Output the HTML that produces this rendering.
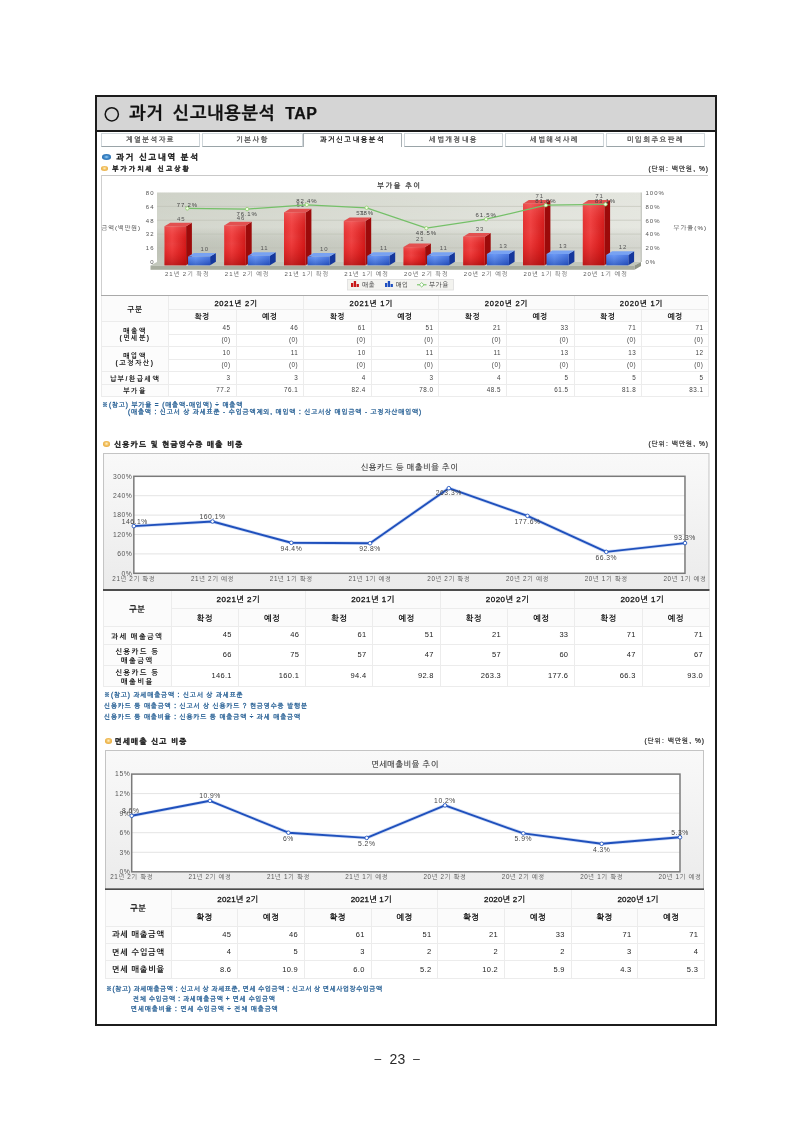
<!DOCTYPE html>
<html lang="ko">
<head>
<meta charset="utf-8">
<title>과거 신고내용분석 TAP</title>
<style>
*{margin:0;padding:0;box-sizing:border-box;}
html,body{width:793px;height:1121px;background:#fff;overflow:hidden;}
body{position:relative;font-family:"Liberation Sans","NanumGothic",sans-serif;color:#222;}
.a{position:absolute;white-space:nowrap;}
svg text{font-family:"Liberation Sans","NanumGothic",sans-serif;}
#frame{position:absolute;left:95px;top:95px;width:622px;height:931px;border:2px solid #1c1c1c;}
#hdr{position:absolute;left:97px;top:97px;width:618px;height:35px;background:#d5d5d5;border-bottom:2px solid #1a1a1a;}
#title{left:129px;top:103px;font-size:17.5px;font-weight:bold;color:#111;letter-spacing:0.7px;word-spacing:4px;-webkit-text-stroke:0.25px #111;}
#title .en{font-size:16px;letter-spacing:0.4px;}
#circ{position:absolute;left:104px;top:107px;width:15px;height:15px;border:1.6px solid #111;border-radius:50%;}
.tab{position:absolute;top:133px;height:14px;width:99px;border:1px solid #cfd6da;border-bottom:1px solid #9aa4a8;background:#fff;font-size:7px;color:#444;text-align:center;line-height:12px;letter-spacing:1.6px;-webkit-text-stroke:0.3px #555;}
.tab.on{border-bottom:none;color:#111;border-color:#a9b0b4;-webkit-text-stroke:0.3px #111;}
.h1{font-size:8px;font-weight:bold;color:#1a1a1a;letter-spacing:1px;-webkit-text-stroke:0.35px #1a1a1a;}
.dotb{position:absolute;width:8px;height:4.5px;border-radius:50%;background:radial-gradient(ellipse at 50% 50%,#9fd4fa 0,#3c86c8 40%,#1f5f9e 100%);}
.doto{position:absolute;width:7.5px;height:4.5px;border-radius:50%;background:radial-gradient(ellipse at 50% 45%,#fff2c8 0,#f2c060 40%,#e0a030 100%);}
.unit{font-size:6.6px;color:#222;letter-spacing:1px;-webkit-text-stroke:0.2px #222;}
.note{font-size:6.4px;color:#275a8c;letter-spacing:0.9px;font-weight:bold;}
#pnum{left:374.8px;top:1051px;font-size:14px;color:#2a2a2a;line-height:16px;}
#pnum .d{font-size:11.3px;display:inline-block;vertical-align:top;line-height:15.5px;-webkit-text-stroke:0.25px #2a2a2a;}
#pnum .n{display:inline-block;margin:0 8px 0 8.5px;}
table.tb{position:absolute;border-collapse:collapse;table-layout:fixed;}
.tb th,.tb td{padding:0;border:1px solid #ececec;white-space:nowrap;overflow:hidden;line-height:1;}
.tb th{font-weight:normal;color:#111;background:#fbfbfb;}
.tb td{text-align:right;padding-right:6px;color:#333;background:#fff;}
.tb tr:first-child th{border-top:none;}
.tb th.l{background:#fcfcfc;}
.tb th.g{font-weight:bold;}
.t1 th{font-size:7.5px;font-weight:bold;letter-spacing:0.8px;}
.t1 td{font-size:6.3px;letter-spacing:0.5px;color:#444;}
.t1 th.l{font-size:6.8px;letter-spacing:1.5px;line-height:7px;}
.t2 th,.t3 th{font-size:8px;letter-spacing:0.5px;}
.t2 th.l,.t3 th.l{font-weight:bold;letter-spacing:0.8px;}
.t2 th.s{font-weight:bold;}
.t2 td,.t3 td{font-size:7.5px;letter-spacing:0.3px;}
.t2 th.l{line-height:8.5px;}
.t1 th.y,.t1 th.s,.t1 th.g{padding-top:2px;}
.t2 th.y{padding-top:1px;font-weight:bold;letter-spacing:0.2px;}
.t2 th.s,.t2 th.g{padding-top:3px;}
.t2 th.g,.t3 th.g{font-weight:normal;-webkit-text-stroke:0.35px #111;}
.t3 th.y,.t3 th.s,.t3 th.g{padding-top:2px;}
.t3 th.y{letter-spacing:0.2px;}
.t2 th.l{padding-top:2px;}
.t3 th.l{padding-top:1px;}
.t1 td{padding-right:5px;}
.t1 th.y{font-weight:normal;-webkit-text-stroke:0.3px #111;}
.t3 th.y,.t3 th.s{-webkit-text-stroke:0.3px #111;}
.t2 td,.t3 td{color:#222;}
.t2 th.y{font-weight:normal;-webkit-text-stroke:0.3px #111;letter-spacing:0.5px;}
.t2 th.l{font-size:7.2px;letter-spacing:1.4px;line-height:9px;}
.note{font-weight:normal;-webkit-text-stroke:0.3px #2a6296;color:#2a6296;}

</style>
</head>
<body>

<div id="frame"></div>
<div id="hdr"></div>
<svg class="a" style="left:103px;top:106px" width="17" height="17" viewBox="0 0 17 17"><circle cx="8.8" cy="8.3" r="6.6" fill="none" stroke="#151515" stroke-width="1.5"/></svg>
<div class="a" id="title">과거 신고내용분석 <span class="en">TAP</span></div>

<div class="tab" style="left:101px">계열분석자료</div>
<div class="tab" style="left:202px;width:101px">기본사항</div>
<div class="tab on" style="left:303px">과거신고내용분석</div>
<div class="tab" style="left:404px">세법개정내용</div>
<div class="tab" style="left:505px">세법해석사례</div>
<div class="tab" style="left:606px">미입회주요판례</div>

<div class="dotb" style="left:101.8px;top:154.4px;width:9.3px;height:5.5px"></div>
<div class="a h1" style="left:116px;top:153px;letter-spacing:1.9px">과거 신고내역 분석</div>
<div class="doto" style="left:101px;top:166.1px;width:7.3px;height:4.6px"></div>
<div class="a h1" style="left:112.3px;top:165px;font-size:6.6px;letter-spacing:2.1px">부가가치세 신고상황</div>
<div class="a unit" style="right:84px;top:164px">(단위: 백만원, %)</div>

<svg class="a" style="left:100px;top:174px" width="610" height="123" viewBox="100 174 610 123">
<defs>
<linearGradient id="wall" x1="0" y1="0" x2="1" y2="0"><stop offset="0" stop-color="#c8ccc0"/><stop offset="0.5" stop-color="#d4d7cd"/><stop offset="1" stop-color="#e0e2da"/></linearGradient>
<linearGradient id="wallv" x1="0" y1="0" x2="0" y2="1"><stop offset="0" stop-color="#ffffff" stop-opacity="0.12"/><stop offset="0.5" stop-color="#ffffff" stop-opacity="0.2"/><stop offset="1" stop-color="#000000" stop-opacity="0.02"/></linearGradient>
<linearGradient id="rf" x1="0" y1="0" x2="1" y2="0"><stop offset="0" stop-color="#e03232"/><stop offset="0.35" stop-color="#ee4444"/><stop offset="1" stop-color="#d01a1a"/></linearGradient>
<linearGradient id="rfv" x1="0" y1="0" x2="0" y2="1"><stop offset="0" stop-color="#ff9090" stop-opacity="0.3"/><stop offset="0.45" stop-color="#ff0000" stop-opacity="0"/><stop offset="1" stop-color="#900000" stop-opacity="0.5"/></linearGradient>
<linearGradient id="bfv" x1="0" y1="0" x2="0" y2="1"><stop offset="0" stop-color="#a0c0ff" stop-opacity="0.3"/><stop offset="1" stop-color="#102a80" stop-opacity="0.35"/></linearGradient>
<linearGradient id="bf" x1="0" y1="0" x2="1" y2="0"><stop offset="0" stop-color="#3d72e6"/><stop offset="0.35" stop-color="#5588f0"/><stop offset="1" stop-color="#2a5bd4"/></linearGradient>
</defs>
<line x1="101" y1="175.5" x2="708" y2="175.5" stroke="#c9c9c9" stroke-width="1"/>
<line x1="101.5" y1="175" x2="101.5" y2="296" stroke="#cfcfcf" stroke-width="1"/>
<line x1="101" y1="295.5" x2="708" y2="295.5" stroke="#a9a9a9" stroke-width="1"/>
<text x="399.5" y="187.6" font-size="7" fill="#333" text-anchor="middle" letter-spacing="1.6" stroke="#333" stroke-width="0.25">부가율 추이</text>
<rect x="157" y="192.5" width="484" height="69.5" fill="url(#wall)"/>
<rect x="157" y="192.5" width="484" height="69.5" fill="url(#wallv)"/>
<line x1="641.3" y1="192.5" x2="641.3" y2="262" stroke="#a8aca2" stroke-width="0.8"/>
<line x1="157" y1="247.9" x2="641" y2="247.9" stroke="#bcc0b4" stroke-width="0.6"/>
<line x1="157" y1="234.1" x2="641" y2="234.1" stroke="#bcc0b4" stroke-width="0.6"/>
<line x1="157" y1="220.2" x2="641" y2="220.2" stroke="#bcc0b4" stroke-width="0.6"/>
<line x1="157" y1="206.4" x2="641" y2="206.4" stroke="#bcc0b4" stroke-width="0.6"/>
<polygon points="150.5,265.5 157,262 641,262 634.5,265.5" fill="#c2c7bb"/>
<rect x="150.5" y="265.5" width="484.0" height="4.300000000000011" fill="#a8ad9f"/>
<polygon points="634.5,265.5 641,262 641,266 634.5,269.8" fill="#8f9486"/>
<text x="154.5" y="264.0" font-size="6" fill="#555" text-anchor="end" letter-spacing="1">0</text>
<text x="154.5" y="250.2" font-size="6" fill="#555" text-anchor="end" letter-spacing="1">16</text>
<text x="154.5" y="236.4" font-size="6" fill="#555" text-anchor="end" letter-spacing="1">32</text>
<text x="154.5" y="222.5" font-size="6" fill="#555" text-anchor="end" letter-spacing="1">48</text>
<text x="154.5" y="208.7" font-size="6" fill="#555" text-anchor="end" letter-spacing="1">64</text>
<text x="154.5" y="194.9" font-size="6" fill="#555" text-anchor="end" letter-spacing="1">80</text>
<text x="645.5" y="264.0" font-size="6" fill="#555" letter-spacing="1">0%</text>
<text x="645.5" y="250.2" font-size="6" fill="#555" letter-spacing="1">20%</text>
<text x="645.5" y="236.4" font-size="6" fill="#555" letter-spacing="1">40%</text>
<text x="645.5" y="222.5" font-size="6" fill="#555" letter-spacing="1">60%</text>
<text x="645.5" y="208.7" font-size="6" fill="#555" letter-spacing="1">80%</text>
<text x="645.5" y="194.9" font-size="6" fill="#555" letter-spacing="1">100%</text>
<text x="101.5" y="229.5" font-size="6.2" fill="#444" letter-spacing="0.9">금액(백만원)</text>
<text x="673.5" y="230" font-size="6.2" fill="#444" letter-spacing="1.1">부가율(%)</text>
<polygon points="186.1,226.3 191.9,222.7 191.9,261.7 186.1,265.3" fill="#9c0a0a"/>
<polygon points="164.5,226.3 170.3,222.7 191.9,222.7 186.1,226.3" fill="#e25050"/>
<rect x="164.5" y="226.3" width="21.6" height="39.0" fill="url(#rf)"/>
<rect x="164.5" y="226.3" width="21.6" height="39.0" fill="url(#rfv)"/>
<text x="181.3" y="220.5" font-size="6" fill="#555" text-anchor="middle" letter-spacing="1">45</text>
<polygon points="210.1,256.6 215.9,253.0 215.9,261.7 210.1,265.3" fill="#15379c"/>
<polygon points="188.1,256.6 193.9,253.0 215.9,253.0 210.1,256.6" fill="#78a2f2"/>
<rect x="188.1" y="256.6" width="22.0" height="8.7" fill="url(#bf)"/>
<rect x="188.1" y="256.6" width="22" height="8.7" fill="url(#bfv)"/>
<text x="204.8" y="250.8" font-size="6" fill="#555" text-anchor="middle" letter-spacing="1">10</text>
<text x="187.3" y="275.8" font-size="6" fill="#5a5a5a" text-anchor="middle" letter-spacing="0.95">21년 2기 확정</text>
<polygon points="245.9,225.4 251.7,221.8 251.7,261.7 245.9,265.3" fill="#9c0a0a"/>
<polygon points="224.2,225.4 230.1,221.8 251.7,221.8 245.9,225.4" fill="#e25050"/>
<rect x="224.2" y="225.4" width="21.6" height="39.9" fill="url(#rf)"/>
<rect x="224.2" y="225.4" width="21.6" height="39.9" fill="url(#rfv)"/>
<text x="241.1" y="219.6" font-size="6" fill="#555" text-anchor="middle" letter-spacing="1">46</text>
<polygon points="269.9,255.8 275.7,252.2 275.7,261.7 269.9,265.3" fill="#15379c"/>
<polygon points="247.9,255.8 253.7,252.2 275.7,252.2 269.9,255.8" fill="#78a2f2"/>
<rect x="247.9" y="255.8" width="22.0" height="9.5" fill="url(#bf)"/>
<rect x="247.9" y="255.8" width="22" height="9.5" fill="url(#bfv)"/>
<text x="264.6" y="250.0" font-size="6" fill="#555" text-anchor="middle" letter-spacing="1">11</text>
<text x="247.1" y="275.8" font-size="6" fill="#5a5a5a" text-anchor="middle" letter-spacing="0.95">21년 2기 예정</text>
<polygon points="305.6,212.4 311.4,208.8 311.4,261.7 305.6,265.3" fill="#9c0a0a"/>
<polygon points="284.0,212.4 289.8,208.8 311.4,208.8 305.6,212.4" fill="#e25050"/>
<rect x="284.0" y="212.4" width="21.6" height="52.9" fill="url(#rf)"/>
<rect x="284.0" y="212.4" width="21.6" height="52.9" fill="url(#rfv)"/>
<text x="300.8" y="206.6" font-size="6" fill="#555" text-anchor="middle" letter-spacing="1">61</text>
<polygon points="329.6,256.6 335.4,253.0 335.4,261.7 329.6,265.3" fill="#15379c"/>
<polygon points="307.6,256.6 313.4,253.0 335.4,253.0 329.6,256.6" fill="#78a2f2"/>
<rect x="307.6" y="256.6" width="22.0" height="8.7" fill="url(#bf)"/>
<rect x="307.6" y="256.6" width="22" height="8.7" fill="url(#bfv)"/>
<text x="324.3" y="250.8" font-size="6" fill="#555" text-anchor="middle" letter-spacing="1">10</text>
<text x="306.8" y="275.8" font-size="6" fill="#5a5a5a" text-anchor="middle" letter-spacing="0.95">21년 1기 확정</text>
<polygon points="365.4,221.1 371.2,217.5 371.2,261.7 365.4,265.3" fill="#9c0a0a"/>
<polygon points="343.8,221.1 349.6,217.5 371.2,217.5 365.4,221.1" fill="#e25050"/>
<rect x="343.8" y="221.1" width="21.6" height="44.2" fill="url(#rf)"/>
<rect x="343.8" y="221.1" width="21.6" height="44.2" fill="url(#rfv)"/>
<text x="360.6" y="215.3" font-size="6" fill="#555" text-anchor="middle" letter-spacing="1">51</text>
<polygon points="389.4,255.8 395.2,252.2 395.2,261.7 389.4,265.3" fill="#15379c"/>
<polygon points="367.4,255.8 373.2,252.2 395.2,252.2 389.4,255.8" fill="#78a2f2"/>
<rect x="367.4" y="255.8" width="22.0" height="9.5" fill="url(#bf)"/>
<rect x="367.4" y="255.8" width="22" height="9.5" fill="url(#bfv)"/>
<text x="384.1" y="250.0" font-size="6" fill="#555" text-anchor="middle" letter-spacing="1">11</text>
<text x="366.6" y="275.8" font-size="6" fill="#5a5a5a" text-anchor="middle" letter-spacing="0.95">21년 1기 예정</text>
<polygon points="425.1,247.1 430.9,243.5 430.9,261.7 425.1,265.3" fill="#9c0a0a"/>
<polygon points="403.5,247.1 409.3,243.5 430.9,243.5 425.1,247.1" fill="#e25050"/>
<rect x="403.5" y="247.1" width="21.6" height="18.2" fill="url(#rf)"/>
<rect x="403.5" y="247.1" width="21.6" height="18.2" fill="url(#rfv)"/>
<text x="420.3" y="241.3" font-size="6" fill="#555" text-anchor="middle" letter-spacing="1">21</text>
<polygon points="449.1,255.8 454.9,252.2 454.9,261.7 449.1,265.3" fill="#15379c"/>
<polygon points="427.1,255.8 432.9,252.2 454.9,252.2 449.1,255.8" fill="#78a2f2"/>
<rect x="427.1" y="255.8" width="22.0" height="9.5" fill="url(#bf)"/>
<rect x="427.1" y="255.8" width="22" height="9.5" fill="url(#bfv)"/>
<text x="443.8" y="250.0" font-size="6" fill="#555" text-anchor="middle" letter-spacing="1">11</text>
<text x="426.3" y="275.8" font-size="6" fill="#5a5a5a" text-anchor="middle" letter-spacing="0.95">20년 2기 확정</text>
<polygon points="484.9,236.7 490.7,233.1 490.7,261.7 484.9,265.3" fill="#9c0a0a"/>
<polygon points="463.2,236.7 469.1,233.1 490.7,233.1 484.9,236.7" fill="#e25050"/>
<rect x="463.2" y="236.7" width="21.6" height="28.6" fill="url(#rf)"/>
<rect x="463.2" y="236.7" width="21.6" height="28.6" fill="url(#rfv)"/>
<text x="480.1" y="230.9" font-size="6" fill="#555" text-anchor="middle" letter-spacing="1">33</text>
<polygon points="508.9,254.0 514.6,250.4 514.6,261.7 508.9,265.3" fill="#15379c"/>
<polygon points="486.9,254.0 492.7,250.4 514.6,250.4 508.9,254.0" fill="#78a2f2"/>
<rect x="486.9" y="254.0" width="22.0" height="11.3" fill="url(#bf)"/>
<rect x="486.9" y="254.0" width="22" height="11.3" fill="url(#bfv)"/>
<text x="503.6" y="248.2" font-size="6" fill="#555" text-anchor="middle" letter-spacing="1">13</text>
<text x="486.1" y="275.8" font-size="6" fill="#5a5a5a" text-anchor="middle" letter-spacing="0.95">20년 2기 예정</text>
<polygon points="544.6,203.7 550.4,200.1 550.4,261.7 544.6,265.3" fill="#9c0a0a"/>
<polygon points="523.0,203.7 528.8,200.1 550.4,200.1 544.6,203.7" fill="#e25050"/>
<rect x="523.0" y="203.7" width="21.6" height="61.6" fill="url(#rf)"/>
<rect x="523.0" y="203.7" width="21.6" height="61.6" fill="url(#rfv)"/>
<text x="539.8" y="197.9" font-size="6" fill="#555" text-anchor="middle" letter-spacing="1">71</text>
<polygon points="568.6,254.0 574.4,250.4 574.4,261.7 568.6,265.3" fill="#15379c"/>
<polygon points="546.6,254.0 552.4,250.4 574.4,250.4 568.6,254.0" fill="#78a2f2"/>
<rect x="546.6" y="254.0" width="22.0" height="11.3" fill="url(#bf)"/>
<rect x="546.6" y="254.0" width="22" height="11.3" fill="url(#bfv)"/>
<text x="563.3" y="248.2" font-size="6" fill="#555" text-anchor="middle" letter-spacing="1">13</text>
<text x="545.8" y="275.8" font-size="6" fill="#5a5a5a" text-anchor="middle" letter-spacing="0.95">20년 1기 확정</text>
<polygon points="604.3,203.7 610.1,200.1 610.1,261.7 604.3,265.3" fill="#9c0a0a"/>
<polygon points="582.8,203.7 588.5,200.1 610.1,200.1 604.3,203.7" fill="#e25050"/>
<rect x="582.8" y="203.7" width="21.6" height="61.6" fill="url(#rf)"/>
<rect x="582.8" y="203.7" width="21.6" height="61.6" fill="url(#rfv)"/>
<text x="599.5" y="197.9" font-size="6" fill="#555" text-anchor="middle" letter-spacing="1">71</text>
<polygon points="628.3,254.9 634.1,251.3 634.1,261.7 628.3,265.3" fill="#15379c"/>
<polygon points="606.3,254.9 612.1,251.3 634.1,251.3 628.3,254.9" fill="#78a2f2"/>
<rect x="606.3" y="254.9" width="22.0" height="10.4" fill="url(#bf)"/>
<rect x="606.3" y="254.9" width="22" height="10.4" fill="url(#bfv)"/>
<text x="623.0" y="249.1" font-size="6" fill="#555" text-anchor="middle" letter-spacing="1">12</text>
<text x="605.5" y="275.8" font-size="6" fill="#5a5a5a" text-anchor="middle" letter-spacing="0.95">20년 1기 예정</text>
<polyline points="187.3,208.4 247.1,209.1 306.8,204.8 366.6,207.8 426.3,228.2 486.1,219.2 545.8,205.2 605.5,204.3" fill="none" stroke="#74c068" stroke-width="1.3"/>
<circle cx="187.3" cy="208.4" r="1.7" fill="#f4fbe8" stroke="#8ccf6a" stroke-width="0.8"/>
<text x="187.3" y="206.6" font-size="6" fill="#444" text-anchor="middle" letter-spacing="0.8">77.2%</text>
<circle cx="247.1" cy="209.1" r="1.7" fill="#f4fbe8" stroke="#8ccf6a" stroke-width="0.8"/>
<text x="247.1" y="216.3" font-size="6" fill="#444" text-anchor="middle" letter-spacing="0.8">76.1%</text>
<circle cx="306.8" cy="204.8" r="1.7" fill="#f4fbe8" stroke="#8ccf6a" stroke-width="0.8"/>
<text x="306.8" y="203.0" font-size="6" fill="#444" text-anchor="middle" letter-spacing="0.8">82.4%</text>
<circle cx="366.6" cy="207.8" r="1.7" fill="#f4fbe8" stroke="#8ccf6a" stroke-width="0.8"/>
<text x="366.6" y="215.0" font-size="6" fill="#444" text-anchor="middle" letter-spacing="0.8">78%</text>
<circle cx="426.3" cy="228.2" r="1.7" fill="#f4fbe8" stroke="#8ccf6a" stroke-width="0.8"/>
<text x="426.3" y="235.4" font-size="6" fill="#444" text-anchor="middle" letter-spacing="0.8">48.5%</text>
<circle cx="486.1" cy="219.2" r="1.7" fill="#f4fbe8" stroke="#8ccf6a" stroke-width="0.8"/>
<text x="486.1" y="217.4" font-size="6" fill="#444" text-anchor="middle" letter-spacing="0.8">61.5%</text>
<circle cx="545.8" cy="205.2" r="1.7" fill="#f4fbe8" stroke="#8ccf6a" stroke-width="0.8"/>
<text x="545.8" y="203.4" font-size="6" fill="#444" text-anchor="middle" letter-spacing="0.8">81.8%</text>
<circle cx="605.5" cy="204.3" r="1.7" fill="#f4fbe8" stroke="#8ccf6a" stroke-width="0.8"/>
<text x="605.5" y="202.5" font-size="6" fill="#444" text-anchor="middle" letter-spacing="0.8">83.1%</text>
<rect x="347.5" y="279.5" width="106" height="10.5" fill="#f3f3ef" stroke="#dedede" stroke-width="0.8"/>
<rect x="351.0" y="283" width="2.3" height="4" fill="#c81818"/>
<rect x="353.8" y="281" width="2.3" height="6" fill="#c81818"/>
<rect x="356.6" y="284" width="2.3" height="3" fill="#c81818"/>
<text x="362" y="287.2" font-size="6.5" fill="#333" letter-spacing="0.5">매출</text>
<rect x="385.0" y="283" width="2.3" height="4" fill="#2050c0"/>
<rect x="387.8" y="281" width="2.3" height="6" fill="#2050c0"/>
<rect x="390.6" y="284" width="2.3" height="3" fill="#2050c0"/>
<text x="395.5" y="287.2" font-size="6.5" fill="#333" letter-spacing="0.5">매입</text>
<line x1="417" y1="284.8" x2="426.5" y2="284.8" stroke="#6cbf5a" stroke-width="1"/>
<polygon points="421.7,282.6 424,284.8 421.7,287 419.4,284.8" fill="#fff" stroke="#6cbf5a" stroke-width="0.8"/>
<text x="429" y="287.2" font-size="6.5" fill="#333" letter-spacing="0.5">부가율</text>
</svg>
<table class="tb t1" style="left:101px;top:296px;width:607.4px;border-top:0">
<colgroup><col style="width:67px"><col style="width:67.6px"><col style="width:67.6px"><col style="width:67.6px"><col style="width:67.6px"><col style="width:67.6px"><col style="width:67.6px"><col style="width:67.6px"><col style="width:67.2px"></colgroup>
<tr style="height:13px"><th rowspan="2" class="g">구분</th><th colspan="2" class="y">2021년 2기</th><th colspan="2" class="y">2021년 1기</th><th colspan="2" class="y">2020년 2기</th><th colspan="2" class="y">2020년 1기</th></tr>
<tr style="height:12.8px"><th class="s">확정</th><th class="s">예정</th><th class="s">확정</th><th class="s">예정</th><th class="s">확정</th><th class="s">예정</th><th class="s">확정</th><th class="s">예정</th></tr>
<tr style="height:12.5px"><th rowspan="2" class="l">매출액<br>(면세분)</th><td>45</td><td>46</td><td>61</td><td>51</td><td>21</td><td>33</td><td>71</td><td>71</td></tr>
<tr style="height:12.5px"><td>(0)</td><td>(0)</td><td>(0)</td><td>(0)</td><td>(0)</td><td>(0)</td><td>(0)</td><td>(0)</td></tr>
<tr style="height:12.5px"><th rowspan="2" class="l">매입액<br>(고정자산)</th><td>10</td><td>11</td><td>10</td><td>11</td><td>11</td><td>13</td><td>13</td><td>12</td></tr>
<tr style="height:12.5px"><td>(0)</td><td>(0)</td><td>(0)</td><td>(0)</td><td>(0)</td><td>(0)</td><td>(0)</td><td>(0)</td></tr>
<tr style="height:12.5px"><th rowspan="1" class="l">납부/환급세액</th><td>3</td><td>3</td><td>4</td><td>3</td><td>4</td><td>5</td><td>5</td><td>5</td></tr>
<tr style="height:12.5px"><th rowspan="1" class="l">부가율</th><td>77.2</td><td>76.1</td><td>82.4</td><td>78.0</td><td>48.5</td><td>61.5</td><td>81.8</td><td>83.1</td></tr>
</table>
<div class="a note" style="left:102px;top:401px">※(참고) 부가율 = (매출액-매입액) ÷ 매출액</div>
<div class="a note" style="left:128px;top:407.5px">(매출액 : 신고서 상 과세표준 - 수입금액제외, 매입액 : 신고서상 매입금액 - 고정자산매입액)</div>

<div class="doto" style="left:103px;top:441px;width:6.5px;height:5.5px"></div>
<div class="a h1" style="left:114px;top:439.5px;font-size:7.5px;letter-spacing:1.25px">신용카드 및 현금영수증 매출 비중</div>
<div class="a unit" style="right:84px;top:439px">(단위: 백만원, %)</div>

<svg class="a" style="left:102px;top:451.5px" width="608.5" height="139.70000000000005" viewBox="102 451.5 608.5 139.70000000000005">
<defs><linearGradient id="bg2" x1="0" y1="0" x2="0" y2="1"><stop offset="0" stop-color="#f9f9f9"/><stop offset="1" stop-color="#ebebeb"/></linearGradient></defs>
<rect x="103.5" y="453.0" width="605.5" height="136.70000000000005" fill="url(#bg2)" stroke="#c4c4c4" stroke-width="1"/>
<line x1="103" y1="589.5" x2="709.5" y2="589.5" stroke="#1e1e1e" stroke-width="1.4"/>
<text x="409.5" y="469.3" font-size="8" fill="#3a3a3a" text-anchor="middle" letter-spacing="0.6" stroke="#3a3a3a" stroke-width="0.15">신용카드 등 매출비율 추이</text>
<rect x="133.8" y="475.8" width="551.2" height="96.99999999999994" fill="#fff"/>
<line x1="133.8" y1="553.4" x2="685" y2="553.4" stroke="#dcdcdc" stroke-width="0.8"/>
<line x1="133.8" y1="534.0" x2="685" y2="534.0" stroke="#dcdcdc" stroke-width="0.8"/>
<line x1="133.8" y1="514.6" x2="685" y2="514.6" stroke="#dcdcdc" stroke-width="0.8"/>
<line x1="133.8" y1="495.2" x2="685" y2="495.2" stroke="#dcdcdc" stroke-width="0.8"/>
<rect x="133.8" y="475.8" width="551.2" height="96.99999999999994" fill="none" stroke="#7a7a7a" stroke-width="1.5"/>
<text x="132.3" y="575.2" font-size="6.8" fill="#555" text-anchor="end" letter-spacing="0.5">0%</text>
<text x="132.3" y="555.8" font-size="6.8" fill="#555" text-anchor="end" letter-spacing="0.5">60%</text>
<text x="132.3" y="536.4" font-size="6.8" fill="#555" text-anchor="end" letter-spacing="0.5">120%</text>
<text x="132.3" y="517.0" font-size="6.8" fill="#555" text-anchor="end" letter-spacing="0.5">180%</text>
<text x="132.3" y="497.6" font-size="6.8" fill="#555" text-anchor="end" letter-spacing="0.5">240%</text>
<text x="132.3" y="478.2" font-size="6.8" fill="#555" text-anchor="end" letter-spacing="0.5">300%</text>
<polyline points="133.8,525.6 212.5,521.0 291.3,542.3 370.0,542.8 448.8,487.7 527.5,515.4 606.3,551.4 685.0,542.6" fill="none" stroke="#9db8ee" stroke-width="3.4" stroke-linejoin="round" opacity="0.5"/>
<polyline points="133.8,525.6 212.5,521.0 291.3,542.3 370.0,542.8 448.8,487.7 527.5,515.4 606.3,551.4 685.0,542.6" fill="none" stroke="#1f50bc" stroke-width="1.9" stroke-linejoin="round"/>
<circle cx="133.8" cy="525.6" r="1.8" fill="#fff" stroke="#2456c0" stroke-width="0.9"/>
<text x="134.8" y="523.3" font-size="6.8" fill="#444" text-anchor="middle" letter-spacing="0.5">146.1%</text>
<text x="133.8" y="580.5" font-size="6.3" fill="#555" text-anchor="middle" letter-spacing="0.6">21년 2기 확정</text>
<circle cx="212.5" cy="521.0" r="1.8" fill="#fff" stroke="#2456c0" stroke-width="0.9"/>
<text x="212.5" y="518.4" font-size="6.8" fill="#444" text-anchor="middle" letter-spacing="0.5">160.1%</text>
<text x="212.5" y="580.5" font-size="6.3" fill="#555" text-anchor="middle" letter-spacing="0.6">21년 2기 예정</text>
<circle cx="291.3" cy="542.3" r="1.8" fill="#fff" stroke="#2456c0" stroke-width="0.9"/>
<text x="291.3" y="550.3" font-size="6.8" fill="#444" text-anchor="middle" letter-spacing="0.5">94.4%</text>
<text x="291.3" y="580.5" font-size="6.3" fill="#555" text-anchor="middle" letter-spacing="0.6">21년 1기 확정</text>
<circle cx="370.0" cy="542.8" r="1.8" fill="#fff" stroke="#2456c0" stroke-width="0.9"/>
<text x="370.0" y="550.8" font-size="6.8" fill="#444" text-anchor="middle" letter-spacing="0.5">92.8%</text>
<text x="370.0" y="580.5" font-size="6.3" fill="#555" text-anchor="middle" letter-spacing="0.6">21년 1기 예정</text>
<circle cx="448.8" cy="487.7" r="1.8" fill="#fff" stroke="#2456c0" stroke-width="0.9"/>
<text x="448.8" y="494.7" font-size="6.8" fill="#444" text-anchor="middle" letter-spacing="0.5">263.3%</text>
<text x="448.8" y="580.5" font-size="6.3" fill="#555" text-anchor="middle" letter-spacing="0.6">20년 2기 확정</text>
<circle cx="527.5" cy="515.4" r="1.8" fill="#fff" stroke="#2456c0" stroke-width="0.9"/>
<text x="527.5" y="523.4" font-size="6.8" fill="#444" text-anchor="middle" letter-spacing="0.5">177.6%</text>
<text x="527.5" y="580.5" font-size="6.3" fill="#555" text-anchor="middle" letter-spacing="0.6">20년 2기 예정</text>
<circle cx="606.3" cy="551.4" r="1.8" fill="#fff" stroke="#2456c0" stroke-width="0.9"/>
<text x="606.3" y="559.4" font-size="6.8" fill="#444" text-anchor="middle" letter-spacing="0.5">66.3%</text>
<text x="606.3" y="580.5" font-size="6.3" fill="#555" text-anchor="middle" letter-spacing="0.6">20년 1기 확정</text>
<circle cx="685.0" cy="542.6" r="1.8" fill="#fff" stroke="#2456c0" stroke-width="0.9"/>
<text x="685.0" y="540.0" font-size="6.8" fill="#444" text-anchor="middle" letter-spacing="0.5">93.3%</text>
<text x="685.0" y="580.5" font-size="6.3" fill="#555" text-anchor="middle" letter-spacing="0.6">20년 1기 예정</text>
</svg>
<table class="tb t2" style="left:103px;top:591px;width:606.0px;border-top:0">
<colgroup><col style="width:67.5px"><col style="width:67.3px"><col style="width:67.3px"><col style="width:67.3px"><col style="width:67.3px"><col style="width:67.3px"><col style="width:67.3px"><col style="width:67.3px"><col style="width:67.4px"></colgroup>
<tr style="height:17.5px"><th rowspan="2" class="g">구분</th><th colspan="2" class="y">2021년 2기</th><th colspan="2" class="y">2021년 1기</th><th colspan="2" class="y">2020년 2기</th><th colspan="2" class="y">2020년 1기</th></tr>
<tr style="height:17.5px"><th class="s">확정</th><th class="s">예정</th><th class="s">확정</th><th class="s">예정</th><th class="s">확정</th><th class="s">예정</th><th class="s">확정</th><th class="s">예정</th></tr>
<tr style="height:18px"><th rowspan="1" class="l">과세 매출금액</th><td>45</td><td>46</td><td>61</td><td>51</td><td>21</td><td>33</td><td>71</td><td>71</td></tr>
<tr style="height:20.5px"><th rowspan="1" class="l">신용카드 등<br>매출금액</th><td>66</td><td>75</td><td>57</td><td>47</td><td>57</td><td>60</td><td>47</td><td>67</td></tr>
<tr style="height:21px"><th rowspan="1" class="l">신용카드 등<br>매출비율</th><td>146.1</td><td>160.1</td><td>94.4</td><td>92.8</td><td>263.3</td><td>177.6</td><td>66.3</td><td>93.0</td></tr>
</table>
<div class="a note n2" style="left:104px;top:690.5px">※(참고) 과세매출금액 : 신고서 상 과세표준</div>
<div class="a note n2" style="left:104px;top:702px">신용카드 등 매출금액 : 신고서 상 신용카드 ? 현금영수증 발행분</div>
<div class="a note n2" style="left:104px;top:712.5px">신용카드 등 매출비율 : 신용카드 등 매출금액 ÷ 과세 매출금액</div>

<div class="doto" style="left:105px;top:738px;width:6.5px;height:5.5px"></div>
<div class="a h1" style="left:114.5px;top:736.5px;font-size:7.5px;letter-spacing:1.25px">면세매출 신고 비중</div>
<div class="a unit" style="right:88px;top:736px">(단위: 백만원, %)</div>

<svg class="a" style="left:104px;top:749.2px" width="601" height="141.79999999999995" viewBox="104 749.2 601 141.79999999999995">
<defs><linearGradient id="bg3" x1="0" y1="0" x2="0" y2="1"><stop offset="0" stop-color="#f9f9f9"/><stop offset="1" stop-color="#ebebeb"/></linearGradient></defs>
<rect x="105.5" y="750.7" width="598" height="138.79999999999995" fill="url(#bg3)" stroke="#c4c4c4" stroke-width="1"/>
<line x1="105" y1="889.3" x2="704" y2="889.3" stroke="#1e1e1e" stroke-width="1.4"/>
<text x="405" y="767.2" font-size="8" fill="#3a3a3a" text-anchor="middle" letter-spacing="0.6" stroke="#3a3a3a" stroke-width="0.15">면세매출비율 추이</text>
<rect x="131.7" y="774.3" width="548.3" height="97.70000000000005" fill="#fff"/>
<line x1="131.7" y1="852.5" x2="680" y2="852.5" stroke="#dcdcdc" stroke-width="0.8"/>
<line x1="131.7" y1="832.9" x2="680" y2="832.9" stroke="#dcdcdc" stroke-width="0.8"/>
<line x1="131.7" y1="813.4" x2="680" y2="813.4" stroke="#dcdcdc" stroke-width="0.8"/>
<line x1="131.7" y1="793.8" x2="680" y2="793.8" stroke="#dcdcdc" stroke-width="0.8"/>
<rect x="131.7" y="774.3" width="548.3" height="97.70000000000005" fill="none" stroke="#7a7a7a" stroke-width="1.5"/>
<text x="130.2" y="874.4" font-size="6.8" fill="#555" text-anchor="end" letter-spacing="0.5">0%</text>
<text x="130.2" y="854.9" font-size="6.8" fill="#555" text-anchor="end" letter-spacing="0.5">3%</text>
<text x="130.2" y="835.3" font-size="6.8" fill="#555" text-anchor="end" letter-spacing="0.5">6%</text>
<text x="130.2" y="815.8" font-size="6.8" fill="#555" text-anchor="end" letter-spacing="0.5">9%</text>
<text x="130.2" y="796.2" font-size="6.8" fill="#555" text-anchor="end" letter-spacing="0.5">12%</text>
<text x="130.2" y="776.7" font-size="6.8" fill="#555" text-anchor="end" letter-spacing="0.5">15%</text>
<polyline points="131.7,816.0 210.0,801.0 288.4,832.9 366.7,838.1 445.0,805.6 523.3,833.6 601.7,844.0 680.0,837.5" fill="none" stroke="#9db8ee" stroke-width="3.4" stroke-linejoin="round" opacity="0.5"/>
<polyline points="131.7,816.0 210.0,801.0 288.4,832.9 366.7,838.1 445.0,805.6 523.3,833.6 601.7,844.0 680.0,837.5" fill="none" stroke="#1f50bc" stroke-width="1.9" stroke-linejoin="round"/>
<circle cx="131.7" cy="816.0" r="1.8" fill="#fff" stroke="#2456c0" stroke-width="0.9"/>
<text x="130.7" y="813.0" font-size="6.8" fill="#444" text-anchor="middle" letter-spacing="0.5">8.6%</text>
<text x="131.7" y="879.3" font-size="6.3" fill="#555" text-anchor="middle" letter-spacing="0.6">21년 2기 확정</text>
<circle cx="210.0" cy="801.0" r="1.8" fill="#fff" stroke="#2456c0" stroke-width="0.9"/>
<text x="210.0" y="798.5" font-size="6.8" fill="#444" text-anchor="middle" letter-spacing="0.5">10.9%</text>
<text x="210.0" y="879.3" font-size="6.3" fill="#555" text-anchor="middle" letter-spacing="0.6">21년 2기 예정</text>
<circle cx="288.4" cy="832.9" r="1.8" fill="#fff" stroke="#2456c0" stroke-width="0.9"/>
<text x="288.4" y="840.9" font-size="6.8" fill="#444" text-anchor="middle" letter-spacing="0.5">6%</text>
<text x="288.4" y="879.3" font-size="6.3" fill="#555" text-anchor="middle" letter-spacing="0.6">21년 1기 확정</text>
<circle cx="366.7" cy="838.1" r="1.8" fill="#fff" stroke="#2456c0" stroke-width="0.9"/>
<text x="366.7" y="846.1" font-size="6.8" fill="#444" text-anchor="middle" letter-spacing="0.5">5.2%</text>
<text x="366.7" y="879.3" font-size="6.3" fill="#555" text-anchor="middle" letter-spacing="0.6">21년 1기 예정</text>
<circle cx="445.0" cy="805.6" r="1.8" fill="#fff" stroke="#2456c0" stroke-width="0.9"/>
<text x="445.0" y="803.1" font-size="6.8" fill="#444" text-anchor="middle" letter-spacing="0.5">10.2%</text>
<text x="445.0" y="879.3" font-size="6.3" fill="#555" text-anchor="middle" letter-spacing="0.6">20년 2기 확정</text>
<circle cx="523.3" cy="833.6" r="1.8" fill="#fff" stroke="#2456c0" stroke-width="0.9"/>
<text x="523.3" y="841.6" font-size="6.8" fill="#444" text-anchor="middle" letter-spacing="0.5">5.9%</text>
<text x="523.3" y="879.3" font-size="6.3" fill="#555" text-anchor="middle" letter-spacing="0.6">20년 2기 예정</text>
<circle cx="601.7" cy="844.0" r="1.8" fill="#fff" stroke="#2456c0" stroke-width="0.9"/>
<text x="601.7" y="852.0" font-size="6.8" fill="#444" text-anchor="middle" letter-spacing="0.5">4.3%</text>
<text x="601.7" y="879.3" font-size="6.3" fill="#555" text-anchor="middle" letter-spacing="0.6">20년 1기 확정</text>
<circle cx="680.0" cy="837.5" r="1.8" fill="#fff" stroke="#2456c0" stroke-width="0.9"/>
<text x="680.0" y="835.0" font-size="6.8" fill="#444" text-anchor="middle" letter-spacing="0.5">5.3%</text>
<text x="680.0" y="879.3" font-size="6.3" fill="#555" text-anchor="middle" letter-spacing="0.6">20년 1기 예정</text>
</svg>
<table class="tb t3" style="left:105px;top:890.3px;width:599.2px;border-top:0">
<colgroup><col style="width:65.6px"><col style="width:66.7px"><col style="width:66.7px"><col style="width:66.7px"><col style="width:66.7px"><col style="width:66.7px"><col style="width:66.7px"><col style="width:66.7px"><col style="width:66.7px"></colgroup>
<tr style="height:18px"><th rowspan="2" class="g">구분</th><th colspan="2" class="y">2021년 2기</th><th colspan="2" class="y">2021년 1기</th><th colspan="2" class="y">2020년 2기</th><th colspan="2" class="y">2020년 1기</th></tr>
<tr style="height:17.8px"><th class="s">확정</th><th class="s">예정</th><th class="s">확정</th><th class="s">예정</th><th class="s">확정</th><th class="s">예정</th><th class="s">확정</th><th class="s">예정</th></tr>
<tr style="height:17.5px"><th rowspan="1" class="l">과세 매출금액</th><td>45</td><td>46</td><td>61</td><td>51</td><td>21</td><td>33</td><td>71</td><td>71</td></tr>
<tr style="height:17.1px"><th rowspan="1" class="l">면세 수입금액</th><td>4</td><td>5</td><td>3</td><td>2</td><td>2</td><td>2</td><td>3</td><td>4</td></tr>
<tr style="height:17.8px"><th rowspan="1" class="l">면세 매출비율</th><td>8.6</td><td>10.9</td><td>6.0</td><td>5.2</td><td>10.2</td><td>5.9</td><td>4.3</td><td>5.3</td></tr>
</table>
<div class="a note n3" style="left:106px;top:984.8px;letter-spacing:0.6px">※(참고) 과세매출금액 : 신고서 상 과세표준, 면세 수입금액 : 신고서 상 면세사업장수입금액</div>
<div class="a note n3" style="left:133px;top:994.7px;letter-spacing:0.7px">전체 수입금액 : 과세매출금액 + 면세 수입금액</div>
<div class="a note n3" style="left:131px;top:1004.5px">면세매출비율 : 면세 수입금액 ÷ 전체 매출금액</div>

<div class="a" id="pnum"><span class="d">–</span><span class="n">23</span><span class="d">–</span></div>

</body>
</html>
